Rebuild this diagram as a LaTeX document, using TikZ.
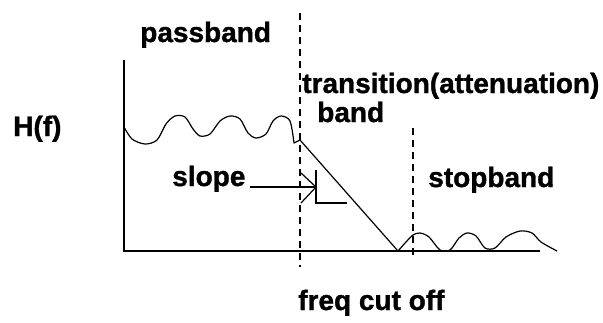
\documentclass[tikz,border=0pt]{standalone}
\usepackage{fontspec}
\setmainfont{Liberation Sans}[BoldFeatures={FakeBold=1.2}]
\begin{document}
\begin{tikzpicture}[x=0.75pt,y=-0.75pt,
  lbl/.style={inner sep=0pt,anchor=base west,font=\fontsize{21}{24}\selectfont\bfseries},
  axis/.style={line width=1.5pt},
  curve/.style={line width=0.9pt,line join=round},
  guide/.style={line width=1.1pt,dash pattern=on 5.5pt off 3.5pt},
  thin/.style={line width=0.9pt}]
\useasboundingbox (0,0) rectangle (603,322);

% labels
\node[lbl] (pass) at (140,42) {passband};
\node[lbl] (trans) at (302,93) {transition(attenuation)};
\node[lbl] (band) at (317,122) {band};
\node[lbl] (hf) at (13,136) {H(f)};
\node[lbl] (slope) at (172,186) {slope};
\node[lbl] (stop) at (428,187) {stopband};
\node[lbl] (fc) at (298,310) {freq cut off};

% axes
\coordinate (top) at (124,60);
\coordinate (origin) at (124,251);
\coordinate (xend) at (540,251);
\draw[axis] (top) -- (origin) -- (xend);

% band edges
\coordinate (c1top) at (300,13);
\coordinate (c1bot) at (300,267);
\coordinate (c2top) at (413,128);
\coordinate (c2bot) at (413,256);
\draw[guide] (c1top) -- (c1bot);
\draw[guide] (c2top) -- (c2bot);

% passband ripple and roll-off
\draw[curve] plot[smooth,tension=0.5] coordinates {
  (124,127) (132,139) (145,144) (157,140) (166,124) (175,116) (185,117)
  (193,129) (200,136) (210,134) (220,121) (230,116) (240,119) (248,133)
  (256,138) (266,134) (273,121) (281,116) (290,121) (294,143)}
  -- (300,140) -- (398,251);

% stopband ripple
\draw[curve] plot[smooth,tension=0.5] coordinates {
  (398,251) (406,242) (413,235) (420,233) (429,237) (440,250) (450,250)
  (459,238) (467,233) (476,236) (485,248) (495,248) (506,237) (520,231)
  (532,233) (541,242) (557,251)};

% slope pointer
\coordinate (tip) at (316,187);
\draw[thin] (slope.base east) ++(4,1) coordinate (tail) -- (tip);
\draw[thin] (301,173) -- (tip) -- (301,203);
\draw[thin] (316,170) -- (316,203) -- (347,203);
\end{tikzpicture}
\end{document}
